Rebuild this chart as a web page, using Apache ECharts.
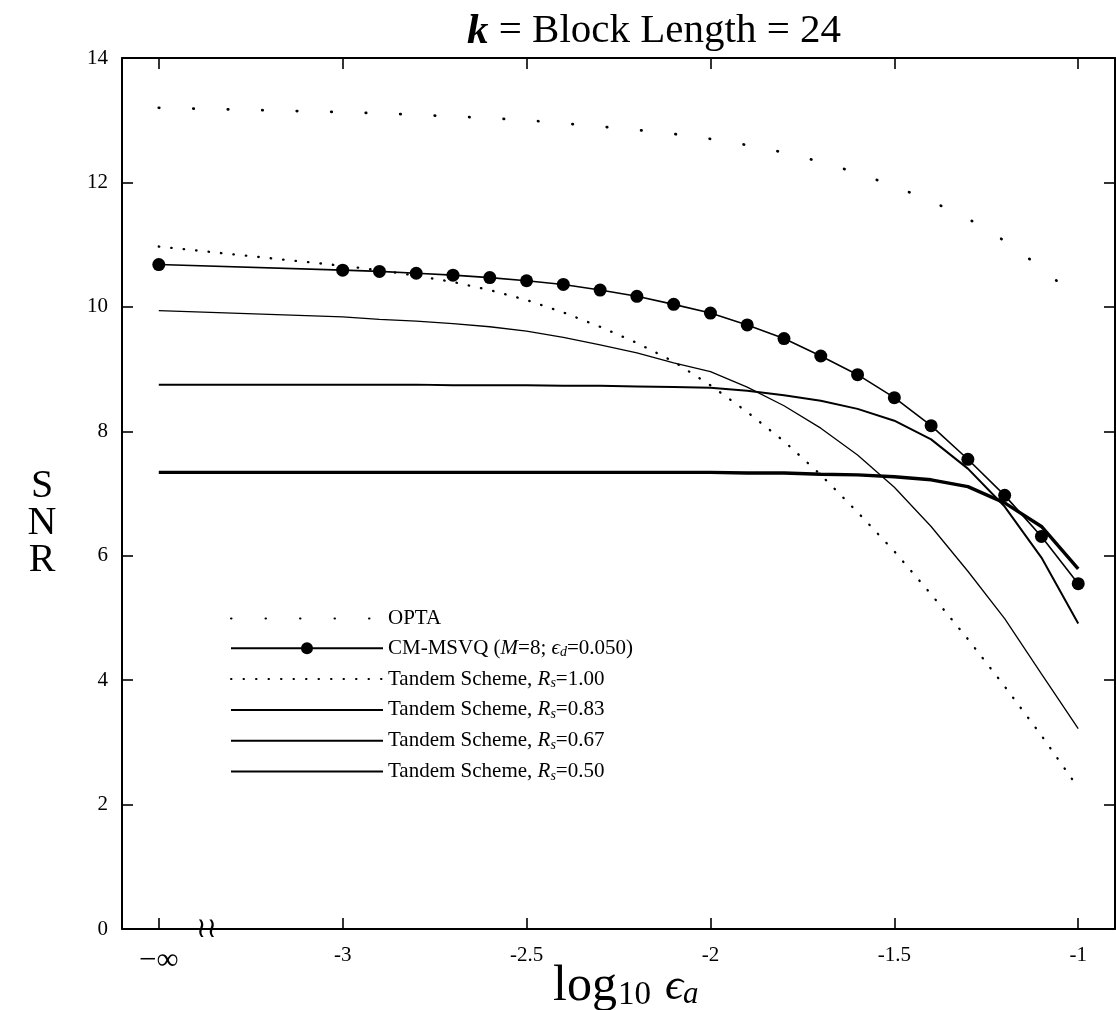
<!DOCTYPE html>
<html>
<head>
<meta charset="utf-8">
<script src="https://cdn.jsdelivr.net/npm/echarts@6/dist/echarts.min.js"></script>
<style>
  html, body { margin: 0; padding: 0; background: #ffffff; }
  #chart { width: 1116px; height: 1010px; }
</style>
</head>
<body>
<div id="chart"></div>
<script>
// log10(eps_a) sample positions; -3.5 stands in for -infinity (left of the axis break)
const logEpsA   = [-3.5, -3.0, -2.9, -2.8, -2.7, -2.6, -2.5, -2.4, -2.3, -2.2, -2.1, -2.0, -1.9, -1.8, -1.7, -1.6, -1.5, -1.4, -1.3, -1.2, -1.1, -1.0];
const opta      = [13.20, 13.13, 13.11, 13.09, 13.06, 13.035, 13.00, 12.95, 12.90, 12.845, 12.78, 12.70, 12.60, 12.48, 12.33, 12.15, 11.94, 11.70, 11.42, 11.06, 10.63, 10.12];
const cmMsvq    = [10.68, 10.59, 10.57, 10.54, 10.51, 10.47, 10.42, 10.36, 10.27, 10.17, 10.04, 9.90, 9.71, 9.49, 9.21, 8.91, 8.54, 8.09, 7.55, 6.97, 6.31, 5.55];
const tandem100 = [10.97, 10.66, 10.59, 10.50, 10.40, 10.27, 10.11, 9.91, 9.68, 9.42, 9.12, 8.74, 8.31, 7.84, 7.30, 6.70, 6.07, 5.38, 4.66, 3.90, 3.11, 2.27];
const tandem083 = [9.94, 9.84, 9.80, 9.77, 9.73, 9.68, 9.61, 9.51, 9.39, 9.26, 9.10, 8.96, 8.71, 8.41, 8.05, 7.62, 7.10, 6.47, 5.75, 4.99, 4.10, 3.22];
const tandem067 = [8.75, 8.75, 8.75, 8.75, 8.74, 8.74, 8.74, 8.73, 8.73, 8.72, 8.71, 8.70, 8.65, 8.58, 8.49, 8.36, 8.17, 7.87, 7.40, 6.79, 5.97, 4.91];
const tandem050 = [7.34, 7.34, 7.34, 7.34, 7.34, 7.34, 7.34, 7.34, 7.34, 7.34, 7.34, 7.34, 7.33, 7.33, 7.31, 7.30, 7.27, 7.22, 7.11, 6.85, 6.47, 5.79];

const xTickValues = [-3.5, -3, -2.5, -2, -1.5, -1];
const xTickLabels = ['−∞', '-3', '-2.5', '-2', '-1.5', '-1'];

const seriesNames = [
  'OPTA',
  'CM-MSVQ (M=8; ϵd=0.050)',
  'Tandem Scheme, Rs=1.00',
  'Tandem Scheme, Rs=0.83',
  'Tandem Scheme, Rs=0.67',
  'Tandem Scheme, Rs=0.50'
];
const legendText = [
  'OPTA',
  'CM-MSVQ ({i|M}=8; {i|ϵ}{sub|d}=0.050)',
  'Tandem Scheme, {i|R}{sub|s}=1.00',
  'Tandem Scheme, {i|R}{sub|s}=0.83',
  'Tandem Scheme, {i|R}{sub|s}=0.67',
  'Tandem Scheme, {i|R}{sub|s}=0.50'
];

const SERIF = '"Liberation Serif", "DejaVu Serif", serif';
const pairs = ys => logEpsA.map((x, i) => [x, ys[i]]);
const HIDDEN = 'rgba(0,0,0,0)';

const chart = echarts.init(document.getElementById('chart'), null, { renderer: 'canvas' });

const tickCommon = { show: true, inside: true, length: 11, lineStyle: { color: '#000', width: 1.6 } };

const xAxisBase = {
  type: 'value', min: -3.6, max: -0.9,
  splitLine: { show: false },
  axisLine: { show: true, onZero: false, lineStyle: { color: '#000', width: 2 } }
};
const yAxisBase = {
  type: 'value', min: 0, max: 14, interval: 2,
  splitLine: { show: false },
  axisLine: { show: true, onZero: false, lineStyle: { color: '#000', width: 2 } },
  axisTick: Object.assign({}, tickCommon)
};

const option = {
  backgroundColor: '#ffffff',
  animation: false,
  title: {
    text: '{k|k} = Block Length = 24',
    left: 462, top: 5,
    textStyle: {
      fontFamily: SERIF, fontSize: 41, fontWeight: 'normal', color: '#000',
      rich: { k: { fontFamily: SERIF, fontSize: 43, fontStyle: 'italic', fontWeight: 'bold', color: '#000' } }
    }
  },
  grid: { left: 122, right: 1, top: 58, bottom: 81, containLabel: false, outerBoundsMode: 'none' },
  xAxis: [
    Object.assign({}, xAxisBase, {
      position: 'bottom',
      axisTick: Object.assign({ customValues: xTickValues }, tickCommon),
      axisLabel: {
        customValues: xTickValues,
        margin: 16,
        fontFamily: SERIF, fontSize: 21, color: '#000',
        formatter: v => {
          const i = xTickValues.indexOf(v);
          const t = i >= 0 ? xTickLabels[i] : '';
          return v === -3.5 ? '{inf|' + t + '}' : t;
        },
        rich: { inf: { fontFamily: SERIF, fontSize: 31, color: '#000' } }
      }
    }),
    Object.assign({}, xAxisBase, {
      position: 'top',
      axisTick: Object.assign({ customValues: xTickValues }, tickCommon),
      axisLabel: { show: false }
    })
  ],
  yAxis: [
    Object.assign({}, yAxisBase, {
      position: 'left',
      axisLabel: { margin: 14, fontFamily: SERIF, fontSize: 21, color: '#000' }
    }),
    Object.assign({}, yAxisBase, {
      position: 'right',
      axisLabel: { show: false }
    })
  ],
  legend: {
    orient: 'vertical',
    left: 230, top: 608,
    itemWidth: 152, itemHeight: 15, itemGap: 8.8,
    padding: 0,
    selectedMode: false,
    data: seriesNames.map((name, i) => (
      i === 1 ? { name } : { name, itemStyle: { color: HIDDEN, borderColor: HIDDEN, borderWidth: 0 } }
    )),
    formatter: name => legendText[seriesNames.indexOf(name)],
    textStyle: {
      fontFamily: SERIF, fontSize: 21, color: '#000', lineHeight: 20,
      rich: {
        i: { fontFamily: SERIF, fontSize: 21, fontStyle: 'italic', color: '#000' },
        sub: { fontFamily: SERIF, fontSize: 14, fontStyle: 'italic', color: '#000', padding: [9, 0, 0, 0] }
      }
    }
  },
  series: [
    {
      name: seriesNames[0], type: 'line', data: pairs(opta),
      symbol: 'none', smooth: false,
      lineStyle: { color: '#000', width: 2.7, type: [0.5, 34], cap: 'round' },
      itemStyle: { color: '#000' }
    },
    {
      name: seriesNames[1], type: 'line', data: pairs(cmMsvq),
      symbol: 'circle', symbolSize: 13, showSymbol: true,
      lineStyle: { color: '#000', width: 1.6 },
      itemStyle: { color: '#000' }
    },
    {
      name: seriesNames[2], type: 'line', data: pairs(tandem100),
      symbol: 'none',
      lineStyle: { color: '#000', width: 2.3, type: [0.5, 12], cap: 'round' },
      itemStyle: { color: '#000' }
    },
    {
      name: seriesNames[3], type: 'line', data: pairs(tandem083),
      symbol: 'none',
      lineStyle: { color: '#000', width: 1.3 },
      itemStyle: { color: '#000' }
    },
    {
      name: seriesNames[4], type: 'line', data: pairs(tandem067),
      symbol: 'none',
      lineStyle: { color: '#000', width: 2 },
      itemStyle: { color: '#000' }
    },
    {
      name: seriesNames[5], type: 'line', data: pairs(tandem050),
      symbol: 'none',
      lineStyle: { color: '#000', width: 3.4 },
      itemStyle: { color: '#000' }
    }
  ]
};

chart.setOption(option);

// axis-break mark between -infinity and the first finite tick, plus the axis titles
const breakPos = chart.convertToPixel({ xAxisIndex: 0, yAxisIndex: 0 }, [-3.37, 0]);
chart.setOption({
  graphic: [
    {
      type: 'text',
      x: breakPos[0], y: breakPos[1] + 1,
      style: {
        text: '≀≀', fontFamily: '"DejaVu Sans", sans-serif', fontSize: 28, fill: '#000',
        align: 'center', verticalAlign: 'middle'
      },
      z: 100
    },
    {
      type: 'text',
      x: 553, y: 987,
      style: {
        text: '{a|log}{b|10}{c|ϵ}{d|a}',
        align: 'left', verticalAlign: 'middle',
        rich: {
          a: { fontFamily: SERIF, fontSize: 50, fill: '#000' },
          b: { fontFamily: SERIF, fontSize: 33, fill: '#000', padding: [16, 0, 0, 1] },
          c: { fontFamily: SERIF, fontSize: 45, fontStyle: 'italic', fill: '#000', padding: [0, 0, 0, 14] },
          d: { fontFamily: SERIF, fontSize: 31, fontStyle: 'italic', fill: '#000', padding: [16, 0, 0, 0] }
        }
      },
      z: 100
    },
    {
      type: 'text',
      x: 42, y: 523,
      style: {
        text: 'S\nN\nR',
        align: 'center', verticalAlign: 'middle',
        fontFamily: SERIF, fontSize: 40, lineHeight: 37, fill: '#000'
      },
      z: 100
    }
  ]
});
</script>
</body>
</html>
